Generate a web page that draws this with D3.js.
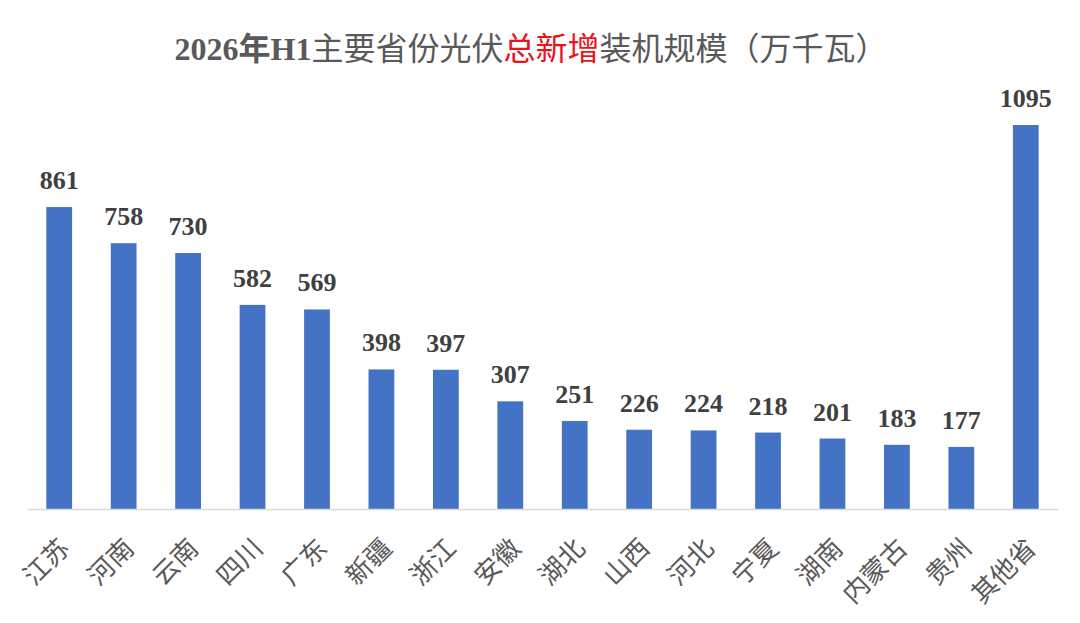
<!DOCTYPE html>
<html lang="zh">
<head>
<meta charset="UTF-8">
<title>2026年H1主要省份光伏总新增装机规模</title>
<script src="https://d3js.org/d3.v7.min.js"></script>
<style>
  body { margin: 0; background: #fff; }
  svg { display: block; }
</style>
</head>
<body>
<div id="chart"></div>
<script>
// data
const provinces = ["江苏", "河南", "云南", "四川", "广东", "新疆", "浙江", "安徽",
                   "湖北", "山西", "河北", "宁夏", "湖南", "内蒙古", "贵州", "其他省"];
const capacity = [861, 758, 730, 582, 569, 398, 397, 307, 251, 226, 224, 218, 201, 183, 177, 1095];

const width = 1080, height = 623;
const margin = {left: 27, right: 22, top: 125, bottom: 114};
const baseY = height - margin.bottom;

const svg = d3.select("#chart").append("svg")
    .attr("width", width)
    .attr("height", height);

const x = d3.scaleBand()
    .domain(provinces)
    .range([margin.left, width - margin.right])
    .paddingInner(0.6)
    .paddingOuter(0.3);

const y = d3.scaleLinear()
    .domain([0, 1095])
    .range([baseY, margin.top]);

// title
const title = svg.append("text")
    .attr("x", 531)
    .attr("y", 60)
    .attr("text-anchor", "middle")
    .attr("fill", "#595959")
    .style("font-size", "32px");
title.append("tspan")
    .style("font-family", "'Liberation Serif', serif")
    .style("font-weight", "bold")
    .text("2026");
title.append("tspan")
    .style("font-family", "'Noto Sans CJK SC', sans-serif")
    .style("font-weight", "bold")
    .text("年");
title.append("tspan")
    .style("font-family", "'Liberation Serif', serif")
    .style("font-weight", "bold")
    .text("H1");
title.append("tspan")
    .style("font-family", "'Noto Sans CJK SC', sans-serif")
    .text("主要省份光伏");
title.append("tspan")
    .style("font-family", "'Noto Sans CJK SC', sans-serif")
    .attr("fill", "#e8141b")
    .text("总新增");
title.append("tspan")
    .style("font-family", "'Noto Sans CJK SC', sans-serif")
    .text("装机规模（万千瓦）");

// bars
svg.selectAll("rect.bar")
    .data(capacity)
    .join("rect")
    .attr("class", "bar")
    .attr("x", (d, i) => x(provinces[i]))
    .attr("y", d => y(d))
    .attr("width", x.bandwidth())
    .attr("height", d => baseY - y(d))
    .attr("fill", "#4472c4");

// value labels
svg.selectAll("text.val")
    .data(capacity)
    .join("text")
    .attr("class", "val")
    .attr("x", (d, i) => x(provinces[i]) + x.bandwidth() / 2)
    .attr("y", d => y(d) - 18)
    .attr("text-anchor", "middle")
    .attr("fill", "#404040")
    .style("font-family", "'Liberation Serif', serif")
    .style("font-weight", "bold")
    .style("font-size", "26px")
    .text(d => d);

// x axis
const xAxis = d3.axisBottom(x).tickSize(0).tickPadding(0);
const gx = svg.append("g")
    .attr("transform", `translate(0,${baseY})`)
    .call(xAxis);
gx.select(".domain").attr("stroke", "#d9d9d9").attr("stroke-width", 1.5);
gx.selectAll(".tick text")
    .attr("text-anchor", "end")
    .attr("fill", "#595959")
    .style("font-family", "'Noto Sans CJK SC', sans-serif")
    .style("font-size", "26px")
    .attr("transform", "translate(-1,28) rotate(-45)")
    .attr("dy", "0.7em")
    .attr("y", 0);
</script>
</body>
</html>
